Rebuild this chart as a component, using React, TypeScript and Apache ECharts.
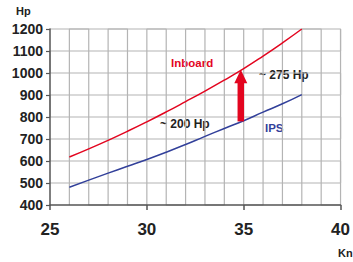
import React, { useEffect, useRef } from "react";
import * as echarts from "echarts";

const knots = [26, 27, 28, 29, 30, 31, 32, 33, 34, 35, 36, 37, 38];
const inboardHp = [618, 655, 694, 735, 778, 823, 870, 918, 968, 1020, 1077, 1137, 1200];
const ipsHp = [481, 513, 545, 576, 607, 640, 675, 712, 748, 783, 822, 860, 902];
const arrowData = [[34.85, 780, 1015]];
const xTicks = [25, 30, 35, 40];
const xGrid = [26, 27, 28, 29, 30, 31, 32, 33, 34, 35, 36, 37, 38, 39, 40];
const yTicks = [400, 500, 600, 700, 800, 900, 1000, 1100, 1200];

const RED = "#e3051f";
const BLUE = "#32409a";
const GRID = "#b4b4b4";
const FONT = "Liberation Sans, Arial, sans-serif";

export default function App() {
  const ref = useRef<HTMLDivElement>(null);
  useEffect(() => {
    if (!ref.current) return;
    const chart = echarts.init(ref.current, undefined, { renderer: "svg" });
    const yMin = yTicks[0];
    const yMax = yTicks[yTicks.length - 1];
    const xMin = xTicks[0];
    const xMax = xTicks[xTicks.length - 1];
    const vZig: number[][] = [];
    xGrid.forEach((v, i) => {
      if (i % 2 === 0) vZig.push([v, yMin], [v, yMax]);
      else vZig.push([v, yMax], [v, yMin]);
    });
    const hZig: number[][] = [];
    yTicks.slice(1).forEach((v, i) => {
      if (i % 2 === 0) hZig.push([xMin, v], [xMax, v]);
      else hZig.push([xMax, v], [xMin, v]);
    });
    chart.setOption({
      animation: false,
      backgroundColor: "#ffffff",
      grid: { left: 50, right: 9, top: 29, bottom: 57, show: false },
      xAxis: {
        type: "value",
        min: xMin,
        max: xMax,
        interval: 5,
        axisLine: { show: true, lineStyle: { color: "#555", width: 1.5 } },
        axisTick: { show: true, length: 5, lineStyle: { color: "#555", width: 1.5 } },
        splitLine: { show: false },
        axisLabel: {
          margin: 16,
          fontSize: 17,
          fontWeight: "bold",
          color: "#222",
          fontFamily: FONT,
        },
        z: 5,
      },
      yAxis: {
        type: "value",
        min: yMin,
        max: yMax,
        interval: 100,
        axisLine: { show: true, lineStyle: { color: "#555", width: 1.5 } },
        axisTick: { show: true, length: 4, lineStyle: { color: "#555", width: 1.2 } },
        splitLine: { show: false },
        axisLabel: {
          margin: 7,
          fontSize: 14,
          fontWeight: "bold",
          color: "#222",
          fontFamily: FONT,
          formatter: (v: number) => String(v),
        },
        z: 5,
      },
      series: [
        {
          type: "line",
          name: "vgrid",
          data: vZig,
          silent: true,
          showSymbol: false,
          smooth: false,
          clip: false,
          lineStyle: { color: GRID, width: 1.2 },
          z: 1,
        },
        {
          type: "line",
          name: "hgrid",
          data: hZig,
          silent: true,
          showSymbol: false,
          smooth: false,
          clip: false,
          lineStyle: { color: GRID, width: 1.2 },
          z: 1,
        },
        {
          type: "line",
          name: "Inboard",
          data: knots.map((k, i) => [k, inboardHp[i]]),
          smooth: true,
          showSymbol: false,
          lineStyle: { color: RED, width: 1.5 },
          z: 3,
        },
        {
          type: "line",
          name: "IPS",
          data: knots.map((k, i) => [k, ipsHp[i]]),
          smooth: true,
          showSymbol: false,
          lineStyle: { color: BLUE, width: 1.5 },
          z: 3,
        },
        {
          type: "custom",
          data: arrowData,
          z: 4,
          renderItem: (params: any, api: any) => {
            const x = api.value(0);
            const p0 = api.coord([x, api.value(1)]);
            const p1 = api.coord([x, api.value(2)]);
            const headH = 13.5;
            const headW = 13;
            const shaftW = 6.5;
            return {
              type: "group",
              children: [
                {
                  type: "rect",
                  shape: {
                    x: p0[0] - shaftW / 2,
                    y: p1[1] + headH - 0.5,
                    width: shaftW,
                    height: p0[1] - (p1[1] + headH - 0.5),
                  },
                  style: { fill: RED },
                },
                {
                  type: "polygon",
                  shape: {
                    points: [
                      [p1[0], p1[1]],
                      [p1[0] - headW / 2, p1[1] + headH],
                      [p1[0] + headW / 2, p1[1] + headH],
                    ],
                  },
                  style: { fill: RED },
                },
              ],
            };
          },
        },
      ],
      graphic: [
        {
          type: "text",
          left: 16,
          top: 5,
          style: { text: "Hp", fontSize: 11, fontWeight: "bold", fill: "#222", fontFamily: FONT },
        },
        {
          type: "text",
          left: 338,
          top: 247,
          style: { text: "Kn", fontSize: 11, fontWeight: "bold", fill: "#222", fontFamily: FONT },
        },
        {
          type: "text",
          left: 171,
          top: 57,
          style: { text: "Inboard", fontSize: 11.5, fontWeight: "bold", fill: RED, fontFamily: FONT },
        },
        {
          type: "text",
          left: 259,
          top: 69,
          style: { text: "~ 275 Hp", fontSize: 12, fontWeight: "bold", fill: "#222", fontFamily: FONT },
        },
        {
          type: "text",
          left: 160,
          top: 118,
          style: { text: "~ 200 Hp", fontSize: 12, fontWeight: "bold", fill: "#222", fontFamily: FONT },
        },
        {
          type: "text",
          left: 265,
          top: 122,
          style: { text: "IPS", fontSize: 11.5, fontWeight: "bold", fill: BLUE, fontFamily: FONT },
        },
      ],
    });
    return () => chart.dispose();
  }, []);
  return (
    <div
      ref={ref}
      style={{ position: "fixed", left: 0, top: 0, width: 353, height: 262 }}
    />
  );
}
